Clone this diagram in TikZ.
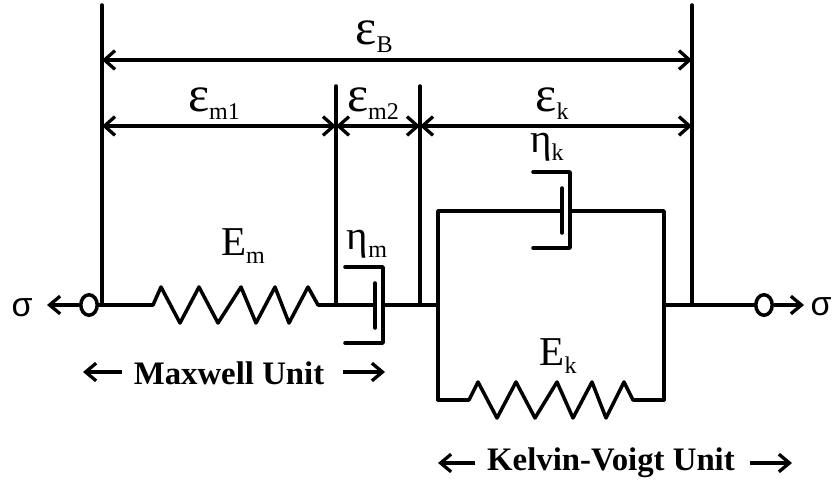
\documentclass[tikz,border=0pt]{standalone}
\usepackage{fontspec}
\setmainfont{Liberation Serif}
\setsansfont{Liberation Sans}
\usepackage{tikz}
\usetikzlibrary{arrows.meta}
\usetikzlibrary{shapes.geometric}
\newcommand{\sublabel}[2]{#1\raisebox{-0.2em}{\fontsize{20.5}{20.5}\selectfont #2}}
\newcommand{\epslabel}[1]{{\fontsize{43}{43}\selectfont ε}\raisebox{-0.2em}{\fontsize{20.5}{20.5}\selectfont #1}}
\tikzset{
	bar/.style={line width=3pt,line cap=round,line join=round},
	span/.style={bar,line cap=butt,{Straight Barb[length=9pt,width=16pt,line width=2.8pt]}-{Straight Barb[length=9pt,width=16pt,line width=2.8pt]}},
	pull/.style={bar,line cap=butt,-{Straight Barb[length=9pt,width=15pt,line width=2.8pt]}},
	joint/.style={ellipse,draw,line width=3pt,minimum width=14pt,minimum height=17.5pt,inner sep=0pt,fill=white},
	lbl/.style={font=\fontsize{35}{35}\selectfont,inner sep=0pt},
	unit/.style={font=\fontsize{28}{28}\selectfont\bfseries,inner sep=0pt},
	stress/.style={font=\fontsize{29}{29}\selectfont\sffamily,inner sep=0pt}
}
\begin{document}
\begin{tikzpicture}[x=0.03cm,y=-0.03cm]
	\useasboundingbox (0,0) rectangle (834,485);
	% end points of the walls and the rods
	\coordinate (wallAtop) at (102,5);
	\coordinate (wallAbot) at (102,305);
	\coordinate (wallDtop) at (692,5);
	\coordinate (wallDbot) at (692,305);
	\coordinate (wallBtop) at (336,86);
	\coordinate (wallBbot) at (336,305);
	\coordinate (wallCtop) at (420,86);
	\coordinate (wallCbot) at (420,305);
	\coordinate (spanAa) at (102,60);
	\coordinate (spanAd) at (692,60);
	\coordinate (spanBa) at (102,126);
	\coordinate (spanBb) at (336,126);
	\coordinate (spanBc) at (420,126);
	\coordinate (spanBd) at (692,126);
	\coordinate (boxTL) at (438,211);
	\coordinate (boxTR) at (664,211);
	\coordinate (boxBL) at (438,400);
	\coordinate (boxBR) at (664,400);
	\coordinate (boxML) at (438,305);
	\coordinate (boxMR) at (664,305);
	\coordinate (pistM) at (375,305);
	\coordinate (cylM) at (383,305);
	\coordinate (pistK) at (562,211);
	\coordinate (cylK) at (570,211);
	\coordinate (pullL) at (47,305);
	\coordinate (pullR) at (804,305);
	% walls
	\draw[bar] (wallAtop)--(wallAbot);
	\draw[bar] (wallDtop)--(wallDbot);
	\draw[bar] (wallBtop)--(wallBbot);
	\draw[bar] (wallCtop)--(wallCbot);
	% strain spans
	\draw[span] (spanAa)--(spanAd);
	\draw[span] (spanBa)--(spanBb);
	\draw[span] (spanBb)--(spanBc);
	\draw[span] (spanBc)--(spanBd);
	% end joints
	\node[joint] (jointL) at (89,305) {};
	\node[joint] (jointR) at (764,305) {};
	\draw[pull] (jointL)--(pullL);
	\draw[pull] (jointR)--(pullR);
	\draw[bar] (jointL)--(wallAbot);
	\draw[bar] (wallDbot)--(jointR);
	% spring Em
	\draw[bar] (wallAbot)--(153,305)--(161,287)--(180,323)--(199,287)--(218,323)--(241,287)
		--(256,323)--(275,287)--(289,323)--(308,287)--(318,305)--(wallBbot);
	% dashpot etam
	\draw[bar] (wallBbot)--(pistM);
	\draw[bar] (375,283)--(375,328);
	\draw[bar] (345,267)--(383,267)--(383,343)--(345,343);
	\draw[bar] (cylM)--(boxML);
	% Kelvin-Voigt box
	\draw[bar] (boxBL)--(boxTL)--(pistK);
	\draw[bar] (cylK)--(boxTR)--(boxBR);
	\draw[bar] (562,188)--(562,233);
	\draw[bar] (533,172)--(570,172)--(570,248)--(533,248);
	\draw[bar] (boxMR)--(wallDbot);
	% spring Ek
	\draw[bar] (boxBL)--(469,400)--(478,382)--(497,418)--(516,382)--(535,418)--(557,382)
		--(573,418)--(592,382)--(606,418)--(624,382)--(633,400)--(boxBR);
	% labels
	\node[lbl] (lblB) at (374,37) {\epslabel{B}};
	\node[lbl] (lblMa) at (214,104) {\epslabel{m1}};
	\node[lbl] (lblMb) at (373,104) {\epslabel{m2}};
	\node[lbl] (lblK) at (552,104) {\epslabel{k}};
	\node[lbl] (lblEtaK) at (547,147) {\sublabel{η}{k}};
	\node[lbl] (lblEtaM) at (367,244) {\sublabel{η}{m}};
	\node[lbl] (lblEm) at (243,246) {\sublabel{E}{m}};
	\node[lbl] (lblEk) at (558,356) {\sublabel{E}{k}};
	\node[stress] (sigL) at (22,308) {σ};
	\node[stress] (sigR) at (821,307) {σ};
	% unit captions
	\node[unit] (unitM) at (229,373) {Maxwell Unit};
	\node[unit] (unitK) at (611,463) {Kelvin-Voigt Unit};
	\coordinate (arrMa) at (122,372);
	\coordinate (arrMb) at (343,372);
	\coordinate (arrKa) at (475,463);
	\coordinate (arrKb) at (750,463);
	\draw[pull] (arrMa)--(83,372);
	\draw[pull] (arrMb)--(385,372);
	\draw[pull] (arrKa)--(438,463);
	\draw[pull] (arrKb)--(792,463);
\end{tikzpicture}
\end{document}
